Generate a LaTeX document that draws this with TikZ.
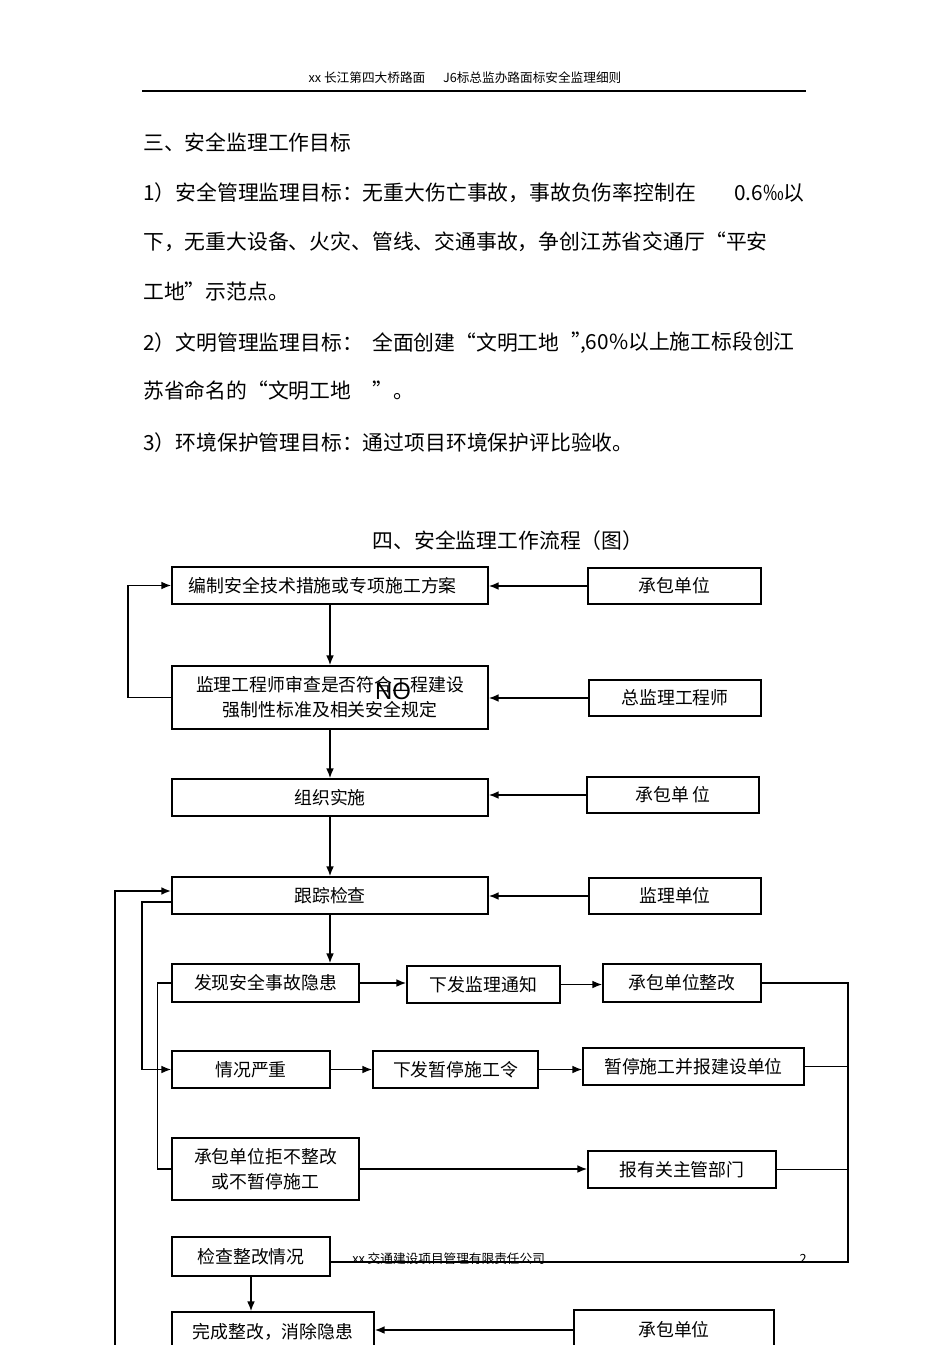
\documentclass[tikz,border=0pt]{standalone}
\usepackage{fontspec}
\newfontfamily\cjk{Noto Sans CJK SC}
\newfontfamily\arial{Liberation Sans}
\usetikzlibrary{arrows.meta}

\begin{document}
\begin{tikzpicture}[x=0.025cm, y=-0.025cm, >={Latex[length=7pt,width=5.5pt]},
    flow box/.style={draw, line width=1pt, inner sep=0pt, align=center,
        font=\cjk\fontsize{12.7pt}{17.7pt}\selectfont},
    body text/.style={inner sep=0pt, anchor=west, font=\cjk\fontsize{14.8pt}{18pt}\selectfont},
    small text/.style={inner sep=0pt, font=\cjk\fontsize{9pt}{11pt}\selectfont},
    link/.style={line width=1.1pt}]
\useasboundingbox [fill=white] (0,0) rectangle (950,1345);

% page header and text
\node [small text] (head) at (465,78) {xx 长江第四大桥路面\hspace{1.4em}J6标总监办路面标安全监理细则};
\draw [line width=0.9pt] (142,91) -- (806,91);
\begin{scope}[every node/.style={body text}]
\node (sec) at (143,142) {三、安全监理工作目标};
\node (goal1a) at (143,193) {1）安全管理监理目标：无重大伤亡事故，事故负伤率控制在};
\node [anchor=east] (goal1b) at (805,193) {0.6‰以};
\node (goal1c) at (143,242) {下，无重大设备、火灾、管线、交通事故，争创江苏省交通厅“平安};
\node (goal1d) at (143,292) {工地”示范点。};
\node (goal2a) at (143,343) {2）文明管理监理目标：\hspace{0.45em}全面创建“文明工地};
\node [anchor=east] (goal2b) at (795,343) {”\hspace{-0.6em},60\%以上施工标段创江};
\node (goal2c) at (143,391) {苏省命名的“文明工地\hspace{1em}”。};
\node (goal3) at (143,443) {3）环境保护管理目标：通过项目环境保护评比验收。};
\node [anchor=center] (title) at (508,541) {四、安全监理工作流程（图）};
\end{scope}

% main column
\node [flow box, minimum width=7.9cm, minimum height=0.925cm] (plan) at (330,585.5) {编制安全技术措施或专项施工方案\hspace{0.8em}};
\node [flow box, minimum width=7.9cm, minimum height=1.575cm] (review) at (330,697.5) {监理工程师审查是否符合工程建设\\强制性标准及相关安全规定};
\node [inner sep=0pt, font=\arial\fontsize{17pt}{17pt}\selectfont] (no) at (393,691) {NO};
\node [flow box, minimum width=7.9cm, minimum height=0.925cm] (impl) at (330,797.5) {组织实施};
\node [flow box, minimum width=7.9cm, minimum height=0.925cm] (track) at (330,895.5) {跟踪检查};

% side boxes
\node [flow box, minimum width=4.325cm, minimum height=0.9cm] (contr1) at (674.5,586) {承包单位};
\node [flow box, minimum width=4.3cm, minimum height=0.9cm] (chief) at (675,698) {总监理工程师};
\node [flow box, minimum width=4.3cm, minimum height=0.9cm] (contr2) at (673,795) {承包单 位};
\node [flow box, minimum width=4.3cm, minimum height=0.9cm] (superv) at (675,896) {监理单位};

% hazard rows
\node [flow box, minimum width=4.675cm, minimum height=0.95cm] (find) at (265.5,983) {发现安全事故隐患};
\node [flow box, minimum width=3.825cm, minimum height=0.925cm] (notice) at (483.5,984.5) {下发监理通知};
\node [flow box, minimum width=3.95cm, minimum height=0.95cm] (rectify) at (682,983) {承包单位整改};
\node [flow box, minimum width=3.95cm, minimum height=0.925cm] (serious) at (251,1069.5) {情况严重};
\node [flow box, minimum width=4.125cm, minimum height=0.925cm] (order) at (455.5,1069.5) {下发暂停施工令};
\node [flow box, minimum width=5.525cm, minimum height=0.925cm] (halt) at (693.5,1066.5) {暂停施工并报建设单位};
\node [flow box, minimum width=4.675cm, minimum height=1.55cm] (refuse) at (265.5,1169) {承包单位拒不整改\\或不暂停施工};
\node [flow box, minimum width=4.7cm, minimum height=0.925cm] (auth) at (682,1169.5) {报有关主管部门};
\node [flow box, minimum width=3.95cm, minimum height=0.975cm] (check) at (251,1256.5) {检查整改情况};
\node [flow box, minimum width=5.05cm, minimum height=1cm] (done) at (273,1332) {完成整改，消除隐患};
\node [flow box, minimum width=5cm, minimum height=1cm] (contr3) at (674,1330) {承包单位};

% page footer
\node [small text, anchor=west] (foot) at (352,1259) {xx 交通建设项目管理有限责任公司};
\node [small text] (page) at (803,1259) {2};

\coordinate (bus) at (848,1262);
\coordinate (outer) at (115,1360);

\path [->, link]
    (plan) edge (review)
    (review) edge (impl)
    (impl) edge (track)
    (track.south) edge (track.south |- find.north)
    (contr1.west) edge (contr1.west -| plan.east)
    (chief.west) edge (chief.west -| review.east)
    (contr2.west) edge (contr2.west -| impl.east)
    (superv.west) edge (superv.west -| track.east)
    (find.east) edge (find.east -| notice.west)
    (notice.east) edge (notice.east -| rectify.west)
    (serious.east) edge (serious.east -| order.west)
    (order.east) edge (order.east -| halt.west)
    (refuse.east) edge (refuse.east -| auth.west)
    (check.south) edge (check.south |- done.north)
    (contr3.west) edge (contr3.west -| done.east)
         ;

\draw [->, link] (review.west) -- ++(-43,0) |- (plan.west);
\draw [->, link] ([yshift=-4.6pt]track.west) -- ++(-29,0) |- (serious.west);
\draw [->, line width=1.4pt] (outer) |- ([yshift=3.2pt]track.west);
\draw [link] (find.west) -- ++(-14,0) |- (refuse.west);
\draw [link] (rectify.east) -| (bus) -- (bus -| check.east);
\draw [line width=0.8pt] (halt.east) -- (halt.east -| bus);
\draw [line width=0.8pt] (auth.east) -- (auth.east -| bus);
\end{tikzpicture}
\end{document}
